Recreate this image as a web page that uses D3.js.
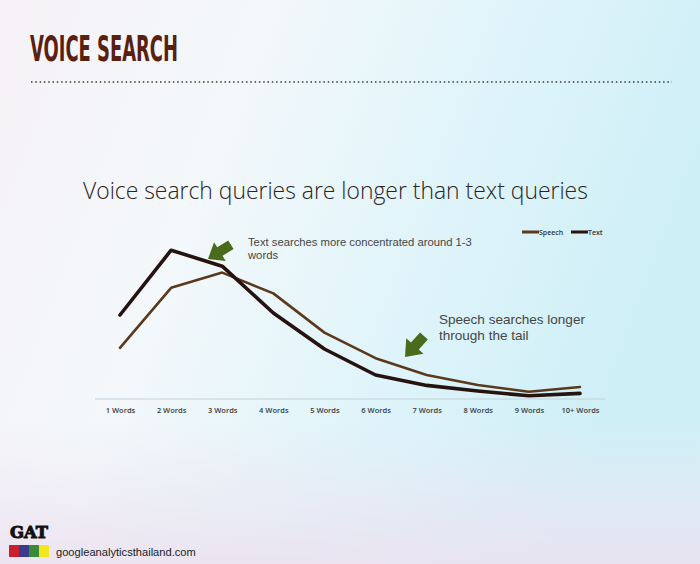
<!DOCTYPE html>
<html>
<head>
<meta charset="utf-8">
<script src="https://cdn.jsdelivr.net/npm/d3@7"></script>
<style>
  html, body { margin: 0; padding: 0; overflow: hidden; }
</style>
</head>
<body>
<div class="canvas"></div>
<script>
// data
var categories = ["1 Words", "2 Words", "3 Words", "4 Words", "5 Words", "6 Words", "7 Words", "8 Words", "9 Words", "10+ Words"];
var speechValues = [12.8, 27.8, 31.6, 26.4, 16.6, 10.2, 6, 3.5, 1.8, 3];
var textValues = [21, 37.2, 33.2, 21.5, 12.5, 6, 3.4, 2, 0.8, 1.4];
var seriesNames = ["Speech", "Text"];

var W = 700, H = 564;
var svg = d3.select(".canvas").append("svg").attr("width", W).attr("height", H);

// shrink/grow a text's font size so it is about `w` px wide
function fitWidth(sel, w) {
    var fs = parseFloat(sel.attr("font-size"));
    var len = sel.node().getComputedTextLength();
    if (len > 0) sel.attr("font-size", (fs * w / len).toFixed(2) + "px");
    return sel;
}

// background of the photographed slide
var defs = svg.append("defs");
var bg = defs.append("linearGradient").attr("id", "bg").attr("x1", "0").attr("y1", "0").attr("x2", "1").attr("y2", "0.3");
bg.append("stop").attr("offset", "0%").attr("stop-color", "#f7f2f7");
bg.append("stop").attr("offset", "35%").attr("stop-color", "#f3f8fb");
bg.append("stop").attr("offset", "70%").attr("stop-color", "#def4fa");
bg.append("stop").attr("offset", "100%").attr("stop-color", "#cfeff7");
var bot = defs.append("linearGradient").attr("id", "bot").attr("x1", "0").attr("y1", "0").attr("x2", "0").attr("y2", "1");
bot.append("stop").attr("offset", "0%").attr("stop-color", "#efe6f2").attr("stop-opacity", 0);
bot.append("stop").attr("offset", "100%").attr("stop-color", "#ebe2f0").attr("stop-opacity", 0.9);

svg.append("rect").attr("width", W).attr("height", H).attr("fill", "url(#bg)");
svg.append("rect").attr("y", 420).attr("width", W).attr("height", 144).attr("fill", "url(#bot)");

// slide heading
svg.append("text")
    .attr("x", 30).attr("y", 61)
    .attr("font-family", "Liberation Sans Narrow, DejaVu Sans Condensed, sans-serif")
    .attr("font-weight", "bold")
    .attr("font-size", "35px")
    .attr("textLength", 148).attr("lengthAdjust", "spacingAndGlyphs")
    .attr("fill", "#58200f")
    .text("VOICE SEARCH");

svg.append("line")
    .attr("x1", 31).attr("x2", 672).attr("y1", 82).attr("y2", 82)
    .attr("stroke", "#3a3a3a").attr("stroke-width", 1.6)
    .attr("stroke-dasharray", "1.5,2.8");

// chart title
var title = svg.append("text")
    .attr("x", 83).attr("y", 199)
    .attr("font-family", "Open Sans, Noto Sans, sans-serif")
    .attr("font-weight", 300)
    .attr("font-size", "29px")
    .attr("fill", "#2b2422")
    .text("Voice search queries are longer than text queries");
fitWidth(title, 505);

// scales
var x = d3.scalePoint().domain(categories).range([120, 580]);
var y = d3.scaleLinear().domain([0, 40]).range([399, 239]);

var colors = { "Speech": "#5a391c", "Text": "#26120e" };
var widths = { "Speech": 2.6, "Text": 3.6 };
var seriesData = { "Speech": speechValues, "Text": textValues };

// baseline
svg.append("line")
    .attr("x1", 95).attr("x2", 605).attr("y1", y(0)).attr("y2", y(0))
    .attr("stroke", "#c3d0da").attr("stroke-width", 1);

var xAxis = svg.append("g")
    .attr("transform", "translate(0," + (y(0) + 3) + ")")
    .call(d3.axisBottom(x).tickSize(0).tickPadding(6));
xAxis.select(".domain").remove();
xAxis.selectAll("text")
    .attr("font-family", "Open Sans, sans-serif")
    .attr("font-weight", 600)
    .attr("font-size", "7.5px")
    .attr("fill", "#3a3a3a");

var line = d3.line()
    .x(function (d, i) { return x(categories[i]); })
    .y(function (d) { return y(d); });

seriesNames.forEach(function (name) {
    svg.append("path")
        .datum(seriesData[name])
        .attr("d", line)
        .attr("fill", "none")
        .attr("stroke", colors[name])
        .attr("stroke-width", widths[name])
        .attr("stroke-linejoin", "round")
        .attr("stroke-linecap", "round");
});

// legend
var legend = svg.append("g").attr("transform", "translate(522,232)");
var legX = [0, 49];
seriesNames.forEach(function (name, i) {
    legend.append("line")
        .attr("x1", legX[i]).attr("x2", legX[i] + 17)
        .attr("y1", 0).attr("y2", 0)
        .attr("stroke", colors[name]).attr("stroke-width", 3);
    legend.append("text")
        .attr("x", legX[i] + 17).attr("y", 2.5)
        .attr("font-family", "Open Sans, sans-serif")
        .attr("font-weight", 600)
        .attr("font-size", "7px")
        .attr("fill", "#333")
        .text(name);
});

// annotations
function arrow(tx, ty, angle, s) {
    var pts = [[0, 0], [-14, -11], [-14, -5], [-27, -5], [-27, 5], [-14, 5], [-14, 11]];
    svg.append("polygon")
        .attr("points", pts.map(function (p) { return p.join(","); }).join(" "))
        .attr("transform", "translate(" + tx + "," + ty + ") rotate(" + angle + ") scale(" + s + ")")
        .attr("fill", "#4a6a1c");
}
arrow(208, 259, 148, 1);
arrow(405, 357, 132, 1.05);

// two-line notes, wrapped with tspans
function note(xp, yp, fs, lines, firstWidth, gap) {
    var t = svg.append("text")
        .attr("x", xp).attr("y", yp)
        .attr("font-family", "Liberation Sans, Arial, sans-serif")
        .attr("font-size", fs + "px")
        .attr("fill", "#454545");
    var first = t.append("tspan").attr("x", xp).text(lines[0]);
    var len = first.node().getComputedTextLength();
    t.attr("font-size", (fs * firstWidth / len).toFixed(2) + "px");
    t.append("tspan").attr("x", xp).attr("dy", gap).text(lines[1]);
}
note(248, 245.5, 11, ["Text searches more concentrated around 1-3", "words"], 224, 13.5);
note(439, 323.5, 13, ["Speech searches longer", "through the tail"], 146, 16);

// footer logo
svg.append("text")
    .attr("x", 10).attr("y", 538)
    .attr("font-family", "DejaVu Serif, serif")
    .attr("font-weight", "bold")
    .attr("font-size", "17px")
    .attr("textLength", 38).attr("lengthAdjust", "spacingAndGlyphs")
    .attr("fill", "#111")
    .attr("stroke", "#111").attr("stroke-width", 1)
    .text("GAT");

var logoColors = ["#c8202c", "#3b3a8e", "#3b8a3a", "#f2e61e"];
svg.selectAll(".sq").data(logoColors).enter().append("rect")
    .attr("x", function (d, i) { return 9 + i * 10; })
    .attr("y", 545).attr("width", 10).attr("height", 12)
    .attr("fill", function (d) { return d; });

var url = svg.append("text")
    .attr("x", 56).attr("y", 556)
    .attr("font-family", "Liberation Sans, Arial, sans-serif")
    .attr("font-size", "12.5px")
    .attr("fill", "#222")
    .text("googleanalyticsthailand.com");
fitWidth(url, 140);
</script>
</body>
</html>
